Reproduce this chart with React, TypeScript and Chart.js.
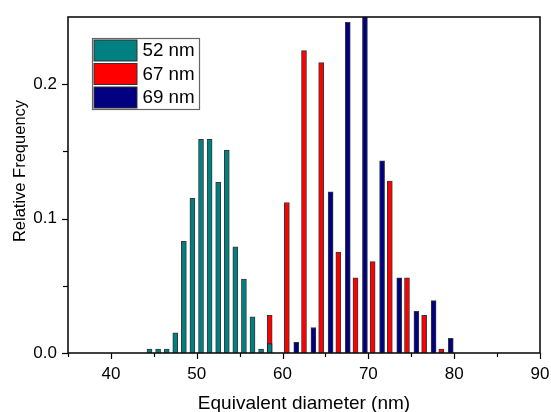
import React, { useEffect, useRef } from 'react';
import { Chart, registerables } from 'chart.js';

Chart.register(...registerables);

const FONT = "'Liberation Sans', Arial, sans-serif";

// Data
const tealX = [44.5, 45.5, 46.5, 47.5, 48.5, 49.5, 50.5, 51.5, 52.5, 53.5, 54.5, 55.5, 56.5, 57.5, 58.5];
const tealY = [0.003, 0.003, 0.003, 0.015, 0.083, 0.115, 0.159, 0.159, 0.127, 0.151, 0.079, 0.055, 0.027, 0.003, 0.007];
const redX = [58.5, 60.5, 62.5, 64.5, 66.5, 68.5, 70.5, 72.5, 74.5, 76.5, 78.5];
const redY = [0.028, 0.112, 0.225, 0.216, 0.075, 0.056, 0.068, 0.128, 0.056, 0.028, 0.003];
const blueX = [61.6, 63.6, 65.6, 67.6, 69.6, 71.6, 73.6, 75.6, 77.6, 79.6];
const blueY = [0.008, 0.019, 0.12, 0.246, 0.26, 0.143, 0.056, 0.031, 0.039, 0.011];

const seriesLabels = ['52 nm', '67 nm', '69 nm'];
const seriesColors = ['#008080', '#ff0000', '#000080'];
const xTitle = 'Equivalent diameter (nm)';
const yTitle = 'Relative Frequency';

const toPoints = (xs: number[], ys: number[]) => xs.map((x, i) => ({ x, y: ys[i] }));

const framePlugin = {
  id: 'frameAndTitles',
  afterDraw(chart: any) {
    const { ctx, chartArea } = chart;
    const { left, right, top, bottom } = chartArea;
    const xs = chart.scales.x;
    const ys = chart.scales.y;
    ctx.save();
    // ticks
    ctx.strokeStyle = '#000';
    ctx.lineWidth = 1.2;
    xs.ticks.forEach((t: any) => {
      const v = t.value;
      const px = Math.round(xs.getPixelForValue(v)) + 0.5;
      const major = Math.round(v) % 10 === 0;
      ctx.beginPath();
      ctx.moveTo(px, bottom);
      ctx.lineTo(px, bottom + (major ? 6 : 4));
      ctx.stroke();
    });
    ys.ticks.forEach((t: any) => {
      const v = t.value;
      if (v > 0.249) return;
      const py = Math.round(ys.getPixelForValue(v)) + 0.5;
      const major = Math.round(v * 100) % 10 === 0;
      ctx.beginPath();
      ctx.moveTo(left, py);
      ctx.lineTo(left - (major ? 6 : 5), py);
      ctx.stroke();
    });
    // frame
    ctx.lineWidth = 1.6;
    ctx.strokeStyle = '#111';
    ctx.strokeRect(left, top, right - left, bottom - top);
    // titles
    ctx.fillStyle = '#000';
    ctx.font = `19px ${FONT}`;
    ctx.textAlign = 'center';
    ctx.textBaseline = 'alphabetic';
    ctx.fillText(xTitle, (left + right) / 2, 408.5);
    ctx.save();
    ctx.translate(25, 171);
    ctx.rotate(-Math.PI / 2);
    ctx.font = `16.5px ${FONT}`;
    ctx.fillText(yTitle, 0, 0);
    ctx.restore();
    // legend
    const lx = left + 24.5;
    const ly = top + 21.5;
    const lw = 107;
    const lh = 71;
    ctx.fillStyle = '#fff';
    ctx.fillRect(lx, ly, lw, lh);
    ctx.strokeStyle = '#666';
    ctx.lineWidth = 1.2;
    ctx.strokeRect(lx, ly, lw, lh);
    chart.data.datasets.forEach((ds: any, i: number) => {
      const sy = ly + 1.5 + i * 23.5;
      ctx.fillStyle = ds.backgroundColor;
      ctx.fillRect(lx + 1.5, sy, 43, 21);
      ctx.strokeStyle = '#333';
      ctx.lineWidth = 1;
      ctx.strokeRect(lx + 1.5, sy, 43, 21);
      ctx.fillStyle = '#000';
      ctx.font = `18.8px ${FONT}`;
      ctx.textAlign = 'left';
      ctx.textBaseline = 'middle';
      ctx.fillText(ds.label, lx + 50, sy + 11);
    });
    ctx.restore();
  },
};

export default function App() {
  const ref = useRef<HTMLCanvasElement>(null);
  useEffect(() => {
    document.body.style.margin = '0';
    const chart = new Chart(ref.current as HTMLCanvasElement, {
      type: 'bar',
      data: {
        datasets: [
          { label: seriesLabels[0], data: toPoints(tealX, tealY), backgroundColor: seriesColors[0] },
          { label: seriesLabels[1], data: toPoints(redX, redY), backgroundColor: seriesColors[1] },
          { label: seriesLabels[2], data: toPoints(blueX, blueY), backgroundColor: seriesColors[2] },
        ] as any,
      },
      options: {
        responsive: false,
        animation: false,
        layout: { padding: { top: 17, right: 11, left: 0, bottom: 0 } },
        datasets: {
          bar: {
            grouped: false,
            barThickness: 5,
            borderWidth: 1,
            borderColor: 'rgba(20,20,20,0.85)',
          } as any,
        },
        plugins: {
          legend: { display: false },
          tooltip: { enabled: false },
        },
        scales: {
          x: {
            type: 'linear',
            offset: false,
            min: 35,
            max: 90,
            grid: { display: false, drawTicks: false, offset: false },
            border: { display: false },
            ticks: {
              stepSize: 5,
              autoSkip: false,
              maxRotation: 0,
              padding: 11,
              color: '#000',
              font: { family: FONT, size: 17 },
              callback: (v: any) => (Math.round(v) % 10 === 0 ? String(v) : ''),
            },
            afterFit: (s: any) => {
              s.height = 59;
              s.paddingLeft = 0;
              s.paddingRight = 0;
            },
          },
          y: {
            min: 0,
            max: 0.25,
            grid: { display: false, drawTicks: false },
            border: { display: false },
            ticks: {
              stepSize: 0.05,
              autoSkip: false,
              padding: 11,
              color: '#000',
              font: { family: FONT, size: 17 },
              callback: (v: any) => {
                const r = Math.round(v * 100);
                return r % 10 === 0 && r <= 20 ? (r / 100).toFixed(1) : '';
              },
            },
            afterFit: (s: any) => {
              s.width = 68;
              s.paddingTop = 0;
              s.paddingBottom = 0;
            },
          },
        },
      },
      plugins: [framePlugin],
    });
    return () => chart.destroy();
  }, []);
  return (
    <div style={{ width: 551, height: 412, background: '#fff' }}>
      <canvas ref={ref} width={551} height={412} style={{ display: 'block' }} />
    </div>
  );
}
